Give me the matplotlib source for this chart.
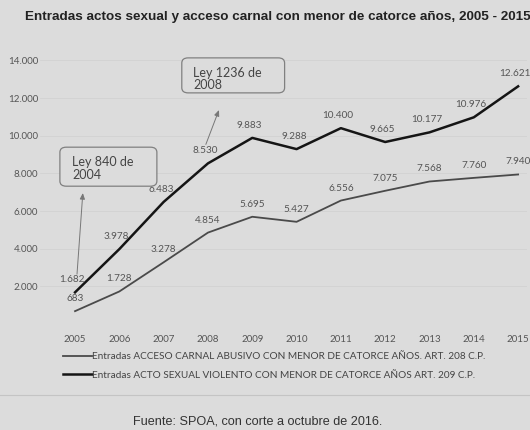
import matplotlib
matplotlib.use('Agg')
import matplotlib.pyplot as plt
from matplotlib.patches import FancyBboxPatch

years = [2005, 2006, 2007, 2008, 2009, 2010, 2011, 2012, 2013, 2014, 2015]
acceso = [683, 1728, 3278, 4854, 5695, 5427, 6556, 7075, 7568, 7760, 7940]
acto = [1682, 3978, 6483, 8530, 9883, 9288, 10400, 9665, 10177, 10976, 12621]
label_acceso = 'Entradas ACCESO CARNAL ABUSIVO CON MENOR DE CATORCE AÑOS. ART. 208 C.P.'
label_acto = 'Entradas ACTO SEXUAL VIOLENTO CON MENOR DE CATORCE AÑOS ART. 209 C.P.'
yticks = [2000, 4000, 6000, 8000, 10000, 12000, 14000]

bg = '#dcdcdc'
txt = '#555555'

def fmt(v):
    return f'{v:,}'.replace(',', '.')

fig = plt.figure(figsize=(5.3, 4.3), dpi=100, facecolor=bg)
ax = fig.add_axes([0.0747, 0.2465, 0.9196, 0.635])
ax.set_facecolor(bg)

ax.plot(years, acceso, color='#4a4a4a', linewidth=1.3, label=label_acceso)
ax.plot(years, acto, color='#151515', linewidth=1.8, label=label_acto)

for x, v in zip(years, acceso):
    ax.annotate(fmt(v), (x, v), xytext=(0, 9), textcoords='offset points',
                ha='center', va='center', fontsize=7.2, color=txt, family='Lato')
for x, v in zip(years, acto):
    ax.annotate(fmt(v), (x, v), xytext=(-2, 9), textcoords='offset points',
                ha='center', va='center', fontsize=7.2, color=txt, family='Lato')

ax.set_xlim(2004.2, 2015.2)
ax.set_ylim(0, 14500)
ax.set_xticks(years)
ax.set_xticklabels([str(y) for y in years])
ax.set_yticks(yticks)
ax.set_yticklabels([fmt(t) for t in yticks])
ax.tick_params(length=0, labelsize=7.0, labelcolor=txt, pad=8)
for lab in ax.get_xticklabels() + ax.get_yticklabels():
    lab.set_family('Lato')
ax.tick_params(axis='y', pad=1)
for s in ax.spines.values():
    s.set_visible(False)
ax.grid(axis='y', color='#d2d2d2', linewidth=0.6)
ax.set_axisbelow(True)

# flechas de las leyes
ax.annotate('', xy=(2005.18, 7100), xytext=(2005.04, 2500),
            arrowprops=dict(arrowstyle='-|>,head_length=0.35,head_width=0.15',
                            color='#777777', linewidth=0.7))
ax.annotate('', xy=(2008.27, 11500), xytext=(2007.93, 9400),
            arrowprops=dict(arrowstyle='-|>,head_length=0.35,head_width=0.15',
                            color='#777777', linewidth=0.7))

for (bx, by, bw, bh) in [(0.113, 0.567, 0.183, 0.0907), (0.343, 0.784, 0.194, 0.0814)]:
    fig.patches.append(FancyBboxPatch((bx, by), bw, bh, boxstyle='round,pad=0,rounding_size=0.012',
                                      transform=fig.transFigure, facecolor=bg,
                                      edgecolor='#808080', linewidth=0.9))
fig.text(0.136, 0.607, 'Ley 840 de\n2004', fontsize=9.0, color='#444444',
         family='Lato', va='center', ha='left', linespacing=1.1)
fig.text(0.364, 0.816, 'Ley 1236 de\n2008', fontsize=9.0, color='#444444',
         family='Lato', va='center', ha='left', linespacing=1.0)

fig.legend(loc='upper left', bbox_to_anchor=(63 / 530, 1 - 352 / 430), frameon=False,
           prop={'family': 'Lato', 'size': 7.2}, labelcolor='#444444',
           handlelength=2.9, handletextpad=0.0, labelspacing=0.95,
           borderaxespad=0, borderpad=0)

fig.text(25 / 530, 1 - 17 / 430,
         'Entradas actos sexual y acceso carnal con menor de catorce años, 2005 - 2015',
         fontsize=9.7, fontweight='bold', color='#222222', family='Liberation Sans',
         va='center', ha='left')

fig.add_artist(plt.Line2D([0, 1], [1 - 395 / 430] * 2, transform=fig.transFigure,
                          color='#c4c4c4', linewidth=0.8))

fig.text(258 / 530, 1 - 421 / 430, 'Fuente: SPOA, con corte a octubre de 2016.',
         fontsize=9.1, color='#333333', family='Liberation Sans', ha='center', va='center')

fig.savefig('out.png', dpi=100, facecolor=bg)
